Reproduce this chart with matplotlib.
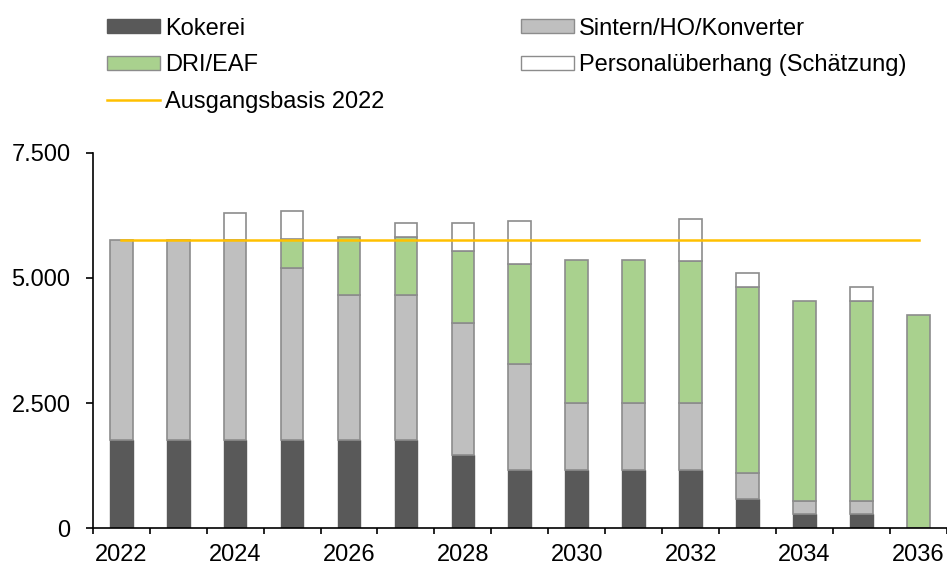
import matplotlib
matplotlib.use("Agg")
from matplotlib import pyplot as plt
from matplotlib.ticker import FuncFormatter, FixedLocator
from matplotlib.patches import Patch
from matplotlib.lines import Line2D
import numpy as np

plt.rcParams['font.family'] = ['Liberation Sans', 'DejaVu Sans']

# Daten (Beschaeftigte je Anlagenbereich)
jahre = [2022, 2023, 2024, 2025, 2026, 2027, 2028, 2029, 2030, 2031, 2032, 2033, 2034, 2035, 2036]
kokerei = [1760, 1760, 1760, 1760, 1760, 1760, 1460, 1160, 1160, 1160, 1160, 580, 280, 280, 0]
sintern = [3990, 3990, 3990, 3445, 2907, 2907, 2649, 2127, 1336, 1336, 1336, 528, 270, 270, 0]
dri_eaf = [0, 0, 0, 572, 1156, 1156, 1429, 1998, 2855, 2855, 2843, 3705, 3998, 3998, 4269]
ueberhang = [0, 0, 545, 564, 0, 273, 558, 842, 0, 0, 845, 293, 0, 277, 0]
basis_2022 = 5750

c_kok = '#595959'
c_sin = '#bfbfbf'
c_dri = '#a9d18e'
c_ueb = '#ffffff'
c_edge = '#8c8c8c'
c_basis = '#ffc000'

fig = plt.figure(figsize=(9.47, 5.66), dpi=100)
ax = fig.add_axes([0.0979, 0.0663, 0.9021, 0.6639])

x = np.arange(len(jahre))
w = 0.4
kok = np.array(kokerei)
sin = np.array(sintern)
dri = np.array(dri_eaf)
ueb = np.array(ueberhang)

ax.bar(x, kok, w, color=c_kok, edgecolor=c_kok, linewidth=1.0, zorder=2)
ax.bar(x, sin, w, bottom=kok, color=c_sin, edgecolor=c_edge, linewidth=1.2, zorder=2)
m = dri > 0
ax.bar(x[m], dri[m], w, bottom=(kok + sin)[m], color=c_dri, edgecolor=c_edge, linewidth=1.2, zorder=2)
m = ueb > 0
ax.bar(x[m], ueb[m], w, bottom=(kok + sin + dri)[m], color=c_ueb, edgecolor=c_edge, linewidth=1.2, zorder=2)

ax.plot([x[0], x[-1]], [basis_2022, basis_2022], color=c_basis, linewidth=1.8, zorder=3)

ax.set_xlim(-0.5, len(jahre) - 0.5)
ax.set_ylim(0, 7500)
ax.set_yticks([0, 2500, 5000, 7500])
ax.yaxis.set_major_formatter(FuncFormatter(lambda v, p: f"{int(v):,}".replace(",", ".")))

ax.xaxis.set_major_locator(FixedLocator(np.arange(-0.5, len(jahre), 1.0)))
ax.xaxis.set_major_formatter(FuncFormatter(lambda v, p: ""))
ax.xaxis.set_minor_locator(FixedLocator(x[::2]))
ax.xaxis.set_minor_formatter(FuncFormatter(lambda v, p: str(jahre[int(round(v))])))
ax.tick_params(axis='x', which='major', length=4.5, width=1.2, direction='out')
ax.tick_params(axis='x', which='minor', length=0, pad=11, labelsize=17)
ax.tick_params(axis='y', length=5, width=1.2, direction='out', pad=11, labelsize=17)

for s in ['top', 'right']:
    ax.spines[s].set_visible(False)
for s in ['left', 'bottom']:
    ax.spines[s].set_linewidth(1.2)

handles = [
    Patch(facecolor=c_kok, edgecolor=c_kok, label='Kokerei'),
    Patch(facecolor=c_dri, edgecolor=c_edge, label='DRI/EAF'),
    Line2D([0], [0], color=c_basis, linewidth=1.8, label='Ausgangsbasis 2022'),
    Patch(facecolor=c_sin, edgecolor=c_edge, label='Sintern/HO/Konverter'),
    Patch(facecolor=c_ueb, edgecolor=c_edge, label='Personalüberhang (Schätzung)'),
]
fig.legend(handles=handles, loc='upper left', bbox_to_anchor=(0.113, 0.969), ncol=2,
           frameon=False, fontsize=17, handlelength=2.25, handleheight=0.55,
           handletextpad=0.2, columnspacing=5.8, labelspacing=0.62,
           borderpad=0, borderaxespad=0)

fig.savefig("out.png", dpi=100)
